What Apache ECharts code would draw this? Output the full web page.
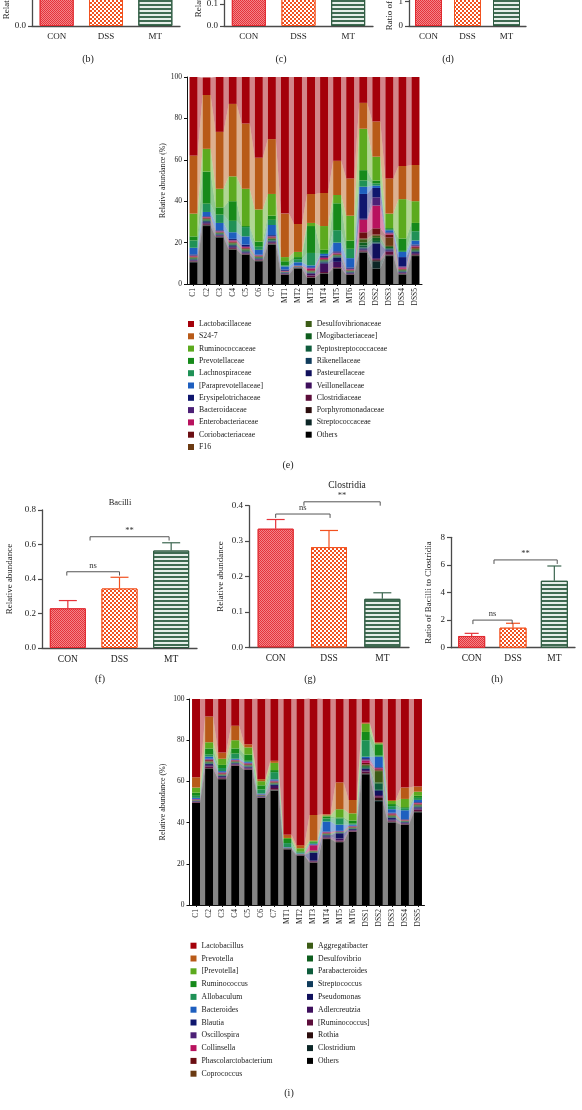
<!DOCTYPE html>
<html><head><meta charset="utf-8">
<script src="https://cdn.jsdelivr.net/npm/echarts@6/dist/echarts.min.js"></script>
<style>html,body{margin:0;padding:0;background:#fff}#c{width:582px;height:1110px}</style>
</head><body><div id="c"></div>
<script>
// ---------------- DATA ----------------
const groups = ['CON', 'DSS', 'MT'];
// panels b, c, d (only their lower part is in view)
const bMeans = [0.55, 0.60, 0.72];
const cMeans = [0.32, 0.28, 0.15];
const dMeans = [1.8, 2.4, 6.0];
// (f) Bacilli
const bacilliMean = [0.23, 0.345, 0.565];
const bacilliErr = [0.045, 0.065, 0.045];
// (g) Clostridia
const clostridiaMean = [0.335, 0.283, 0.137];
const clostridiaErr = [0.026, 0.047, 0.017];
// (h) Ratio of Bacilli to Clostridia
const ratioMean = [0.85, 1.45, 4.85];
const ratioErr = [0.19, 0.32, 1.07];
// significance brackets (x in category-index units, y in data units)
const bacilliBrackets = [
  {x1: -0.02, x2: 1.0, y: 0.442, drop: 0.022, text: 'ns'},
  {x1: 0.43, x2: 1.96, y: 0.645, drop: 0.022, text: '**'}];
const clostridiaBrackets = [
  {x1: 0.0, x2: 1.02, y: 0.3765, drop: 0.011, text: 'ns'},
  {x1: 0.53, x2: 1.96, y: 0.411, drop: 0.011, text: '**'}];
const ratioBrackets = [
  {x1: 0.03, x2: 0.98, y: 2.0, drop: 0.29, text: 'ns'},
  {x1: 0.54, x2: 2.07, y: 6.36, drop: 0.29, text: '**'}];

const samples = ['C1','C2','C3','C4','C5','C6','C7','MT1','MT2','MT3','MT4','MT5','MT6','DSS1','DSS2','DSS3','DSS4','DSS5'];
const yTicks = [0, 20, 40, 60, 80, 100];

// (e) family level, relative abundance (%)
const lactobacillaceae    = [38,8.5,26.5,13,22.5,39,30, 66,71,56.5,56,40.5,49, 12.5,21.5,49,43,42.5];
const s247                = [28,26,27.5,35,31.5,25,26.5, 21,13.5,14,16,16.5,18, 12.5,17,17,16,17.5];
const ruminococcaceae     = [11,11,9,12,18,15.5,10.5, 2,2.5,1.5,11.5,4,12, 20,11.5,7,19,10.5];
const prevotellaceae      = [2,15.5,3.5,9.5,0.5,2.5,2, 2,1,13,1.5,13,4, 5,1.5,0.5,6,4];
const lachnospiraceae     = [3.5,4,4,5.5,4.5,1.5,2.5, 0.5,1.5,6,0.5,6,4.5, 3,1,0.5,0.5,4.5];
const paraprevotellaceae  = [3.2,2,3.5,3.2,4,2.3,4.9, 1.5,1.6,0.9,0.9,4.2,4.5, 3.5,1.1,1,2.5,1.9];
const erysipelotrichaceae = [0.5,0.3,0.3,0.5,0.7,0.2,0.4, 0.6,0.1,0.3,0.5,0.5,0.6, 12,4.5,0.3,4.5,0.5];
const bacteroidaceae      = [0.2,0.2,0.3,0.3,0.5,0.2,0.3, 0.1,0.1,0.3,0.5,0.5,0.3, 0.5,4,0.3,0.5,0.4];
const enterobacteriaceae  = [0.3,0.3,0.2,0.5,0.4,0.2,0.3, 0.2,0.1,0.8,0.5,0.3,0.3, 6,11,0.5,0.6,0.4];
const coriobacteriaceae   = [0.3,0.3,0.2,0.4,0.3,0.2,0.3, 0.1,0.1,0.3,0.3,0.3,0.2, 3,3,1.5,0.2,0.4];
const f16                 = [0.2,0.3,0.2,0.3,0.3,0.2,0.3, 0.1,0.1,0.2,0.2,0.2,0.2, 0.4,0.6,4,0.3,0.4];
const desulfovibrionaceae = [0.3,0.3,0.2,0.3,0.3,0.2,0.3, 0.1,0.1,0.2,0.2,0.2,0.2, 1.5,1,0.5,0.3,0.5];
const mogibacteriaceae    = [0.3,0.4,0.3,0.4,0.4,0.3,0.4, 0.1,0.1,0.3,0.3,0.3,0.2, 1.5,1.5,0.5,0.3,0.4];
const peptostreptococcaceae = [0.2,0.3,0.2,0.3,0.3,0.2,0.3, 0.1,0.1,0.2,0.3,0.3,0.2, 1,0.8,0.4,0.2,0.3];
const rikenellaceae       = [0.3,0.4,0.3,0.4,0.4,0.3,0.4, 0.2,0.1,0.3,0.5,0.5,0.3, 0.5,0.5,0.4,0.3,0.4];
const pasteurellaceae     = [0.2,0.4,0.3,0.4,0.3,0.2,0.3, 0.3,0.1,0.3,0.5,2,0.3, 0.5,7,0.5,0.3,0.5];
const veillonellaceae     = [0.3,0.5,0.3,0.5,0.4,0.3,0.4, 0.2,0.1,0.8,4,2.5,0.3, 0.4,0.5,0.5,0.3,0.5];
const clostridiaceae      = [0.3,0.5,0.3,0.5,0.3,0.3,0.4, 0.2,0.1,0.8,0.5,0.4,0.2, 0.5,0.5,1.5,0.3,0.4];
const porphyromonadaceae  = [0.2,0.3,0.2,0.3,0.2,0.2,0.3, 0.1,0.1,0.2,0.2,0.2,0.1, 0.4,0.5,0.3,0.2,0.3];
const streptococcaceae    = [0.2,0.3,0.2,0.2,0.2,0.2,0.2, 0.1,0.1,0.1,0.1,0.1,0.1, 0.3,3.5,0.3,0.2,0.2];
const othersE             = [10.5,28,22.5,16.5,14,11,19, 4.5,7.5,3,5,7.5,4.5, 15,7.5,13.5,4.5,13.5];

// (i) genus level, relative abundance (%)
const lactobacillus   = [38,8.5,26,13,22,39,30, 66,71,56.5,56,40.5,49, 11.5,21,49,43,42.5];
const prevotella      = [5,12.5,3,7,1.5,1,1, 1.5,1.5,12.5,0.5,13,6.5, 0.5,0.5,0.5,5.5,2.5];
const prevotellaB     = [2.5,3,3,4,3.5,2,3.5, 0.5,1.5,0.5,0.5,4,3.5, 4,0.5,1.5,4,2];
const ruminococcus    = [1.5,3,1.5,2.5,3,2,1, 2,0.5,0.5,1,0.5,1.5, 4,5.5,1,0.5,1];
const allobaculum     = [1,1,1.5,2.5,0.5,2,3.5, 2,0.5,0.5,1.5,3,0.5, 8,0.5,1.5,1,1];
const bacteroides     = [0.5,1,0.5,0.5,0.4,0.4,0.5, 0.2,0.2,0.3,4.8,3,0.5, 0.7,5,1.7,4.3,1];
const blautia         = [0.1,0.2,0.1,0.1,0.2,0.1,0.2, 0.05,0.05,0.2,0.2,0.1,0.2, 0.6,0.3,0.2,0.2,0.3];
const oscillospira    = [0.1,0.2,0.2,0.1,0.2,0.1,0.2, 0.05,0.05,0.2,0.2,0.2,0.1, 0.5,0.3,0.2,0.2,0.2];
const collinsella     = [0.2,0.3,0.3,0.2,0.3,0.1,0.2, 0.05,0.05,2.5,0.3,0.1,0.2, 1.2,0.5,0.4,0.2,0.3];
const phascolarctobacterium = [0.2,0.4,0.3,0.3,0.3,0.1,0.4, 0.05,0.05,0.2,0.2,0.1,0.2, 0.8,0.5,0.3,0.1,0.3];
const coprococcus     = [0.1,0.3,0.2,0.2,0.2,0.1,0.2, 0.05,0.05,0.2,0.2,0.1,0.2, 0.3,0.4,0.3,0.1,0.3];
const aggregatibacter = [0.1,0.3,0.2,0.2,0.2,0.1,0.2, 0.05,0.05,0.2,0.2,0.1,0.2, 0.5,5.5,0.3,0.2,0.3];
const desulfovibrio   = [0.1,0.3,0.2,0.2,0.2,0.1,0.2, 0.05,0.05,0.2,0.2,0.1,0.2, 0.5,0.6,0.3,0.2,0.3];
const parabacteroides = [0.1,0.3,0.2,0.2,0.2,0.1,0.3, 0.05,0.05,0.2,0.2,0.2,0.2, 0.5,3,0.3,0.2,0.3];
const streptococcus   = [0.1,0.3,0.2,0.2,0.2,0.1,0.3, 0.05,0.05,0.2,0.2,0.2,0.2, 0.4,0.5,0.3,0.2,0.3];
const pseudomonas     = [0.2,0.5,0.4,0.3,0.4,0.2,0.5, 0.1,0.1,3.8,0.6,2.5,0.4, 0.5,2,0.8,0.3,0.5];
const adlercreutzia   = [0.2,0.6,0.4,0.3,0.4,0.2,1, 0.1,0.1,0.3,0.5,1,0.3, 0.7,0.6,0.4,0.3,0.6];
const ruminococcusB   = [0.3,0.8,0.5,0.4,0.5,0.2,0.8, 0.1,0.1,0.4,0.4,0.5,0.4, 0.8,0.8,0.5,0.3,0.8];
const rothia          = [0.1,0.3,0.2,0.2,0.2,0.1,0.3, 0.05,0.05,0.2,0.2,0.2,0.1, 0.3,1.2,0.3,0.1,0.3];
const clostridium     = [0.1,0.2,0.1,0.1,0.1,0.1,0.2, 0.05,0.05,0.1,0.1,0.1,0.1, 0.2,0.8,0.2,0.1,0.2];
const othersI         = [49.5,66,61,67.5,65.5,52,55.5, 27,24,20.5,32,30.5,35.5, 63.5,50,40,39,45];

// ---------------- STYLE ----------------
const FONT = 'Liberation Serif';
const TXT = '#222';
const AX = '#4a4a4a';
const palette = ['#000000','#0C2626','#2B0D0D','#5C0D3A','#3E0F5C','#10105C','#103C5C','#0E5C3C','#0E5E1E','#3C5C16',
  '#6B3A12','#6B0E12','#B8125E','#4C2076','#0F166E','#1E5FBF','#1F9156','#168A1A','#5CAA1E','#B85A18','#A4000A'];

// stacks listed bottom to top
const famE = [
  ['Others', othersE], ['Streptococcaceae', streptococcaceae], ['Porphyromonadaceae', porphyromonadaceae],
  ['Clostridiaceae', clostridiaceae], ['Veillonellaceae', veillonellaceae], ['Pasteurellaceae', pasteurellaceae],
  ['Rikenellaceae', rikenellaceae], ['Peptostreptococcaceae', peptostreptococcaceae], ['[Mogibacteriaceae]', mogibacteriaceae],
  ['Desulfovibrionaceae', desulfovibrionaceae], ['F16', f16], ['Coriobacteriaceae', coriobacteriaceae],
  ['Enterobacteriaceae', enterobacteriaceae], ['Bacteroidaceae', bacteroidaceae], ['Erysipelotrichaceae', erysipelotrichaceae],
  ['[Paraprevotellaceae]', paraprevotellaceae], ['Lachnospiraceae', lachnospiraceae], ['Prevotellaceae', prevotellaceae],
  ['Ruminococcaceae', ruminococcaceae], ['S24-7', s247], ['Lactobacillaceae', lactobacillaceae]];
const genI = [
  ['Others ', othersI], ['Clostridium', clostridium], ['Rothia', rothia], ['[Ruminococcus]', ruminococcusB],
  ['Adlercreutzia', adlercreutzia], ['Pseudomonas', pseudomonas], ['Streptococcus', streptococcus],
  ['Parabacteroides', parabacteroides], ['Desulfovibrio', desulfovibrio], ['Aggregatibacter', aggregatibacter],
  ['Coprococcus', coprococcus], ['Phascolarctobacterium', phascolarctobacterium], ['Collinsella', collinsella],
  ['Oscillospira', oscillospira], ['Blautia', blautia], ['Bacteroides', bacteroides], ['Allobaculum', allobaculum],
  ['Ruminococcus', ruminococcus], ['[Prevotella]', prevotellaB], ['Prevotella', prevotella], ['Lactobacillus', lactobacillus]];

const groupStyles = [
  {color: '#E5333A', borderColor: '#E02A30', borderWidth: 1,
   decal: {symbol: 'rect', symbolSize: 1, color: 'rgba(255,200,200,0.55)', dashArrayX: [[1,1],[0,1,1,0]], dashArrayY: [1,0]}},
  {color: '#F2511F', borderColor: '#F2511F', borderWidth: 1,
   decal: {symbol: 'rect', symbolSize: 1, color: '#ffffff', dashArrayX: [[1.8,1.8],[0,1.8,1.8,0]], dashArrayY: [1.8,0]}},
  {color: '#E6EEE9', borderColor: '#2E5A40', borderWidth: 1,
   decal: {symbol: 'rect', symbolSize: 1, color: '#3F6B52', dashArrayX: [1,0], dashArrayY: [1.5,1.8]}}];
const errColors = ['#E5333A', '#F2511F', '#3C6650'];

// ---------------- LAYOUT ----------------
const H = 1110;
function G(left, top, width, height) {
  return {left: left, bottom: H - top - height, width: width, height: height, outerBoundsMode: 'none', containLabel: false};
}
const grids = [
  G(32, -58, 148, 84),        // b 0
  G(224, -62, 149, 88),       // c 1
  G(409, -96, 117, 122),      // d 2
  G(187, 77, 235, 207),       // e 3
  G(42, 510, 155, 138),       // f 4
  G(249, 505.7, 160, 141.6),  // g 5
  G(451, 537.3, 124, 110.4),  // h 6
  G(189.5, 699, 235, 206)     // i 7
];

function groupXAxis(g, fs) {
  return {type: 'category', gridIndex: g, data: groups, boundaryGap: true,
    axisLine: {lineStyle: {color: AX, width: 1.3}},
    axisTick: {alignWithLabel: true, length: 3, lineStyle: {color: AX, width: 1.2}},
    axisLabel: {fontFamily: FONT, fontSize: fs, color: TXT, margin: 6}};
}
function groupYAxis(g, max, interval, name, gap, fs, dec) {
  return {type: 'value', gridIndex: g, min: 0, max: max, interval: interval,
    name: name, nameLocation: 'middle', nameGap: gap, nameRotate: 90,
    nameTextStyle: {fontFamily: FONT, fontSize: fs, color: TXT},
    splitLine: {show: false},
    axisLine: {show: true, lineStyle: {color: AX, width: 1.3}},
    axisTick: {show: true, length: 4, lineStyle: {color: AX, width: 1.2}},
    axisLabel: {fontFamily: FONT, fontSize: 9, color: TXT, margin: 6,
      formatter: v => v.toFixed(dec)}};
}
function sampleXAxis(g) {
  return {type: 'category', gridIndex: g, data: samples, boundaryGap: true,
    axisLine: {lineStyle: {color: '#111', width: 1}},
    axisTick: {show: true, alignWithLabel: true, length: 2, lineStyle: {color: '#111'}},
    axisLabel: {rotate: 90, interval: 0, fontFamily: FONT, fontSize: 7.5, color: TXT, margin: 4}};
}
function pctYAxis(g, gap, fs) {
  return {type: 'value', gridIndex: g, min: yTicks[0], max: yTicks[yTicks.length - 1], interval: yTicks[1] - yTicks[0],
    name: 'Relative abundance (%)', nameLocation: 'middle', nameGap: gap, nameRotate: 90,
    nameTextStyle: {fontFamily: FONT, fontSize: fs, color: TXT},
    splitLine: {show: false},
    axisLine: {show: true, lineStyle: {color: '#111', width: 1}},
    axisTick: {show: true, length: 3, lineStyle: {color: '#111'}},
    axisLabel: {fontFamily: FONT, fontSize: 7.5, color: TXT, margin: 5}};
}

const xAxis = [
  groupXAxis(0, 9), groupXAxis(1, 9), groupXAxis(2, 9),
  sampleXAxis(3),
  groupXAxis(4, 9.5), groupXAxis(5, 9.5), groupXAxis(6, 9.5),
  sampleXAxis(7)];
const yAxis = [
  groupYAxis(0, 0.6, 0.2, 'Relative abundance', 18, 9, 1),
  groupYAxis(1, 0.4, 0.1, 'Relative abundance', 18, 9, 1),
  groupYAxis(2, 5, 1, 'Ratio of Firmicutes to Bacteroidetes', 14, 9, 0),
  pctYAxis(3, 19, 7.8),
  groupYAxis(4, 0.8, 0.2, 'Relative abundance', 28, 9, 1),
  groupYAxis(5, 0.4, 0.1, 'Relative abundance', 24, 9, 1),
  groupYAxis(6, 8, 2, 'Ratio of Bacilli to Clostridia', 18, 9, 0),
  pctYAxis(7, 23, 8)];

const series = [];
function groupBars(xi, yi, means, bw) {
  series.push({type: 'bar', xAxisIndex: xi, yAxisIndex: yi, barWidth: bw, silent: true, z: 2,
    data: means.map((v, i) => ({value: v, itemStyle: groupStyles[i]}))});
}
function errBars(xi, yi, means, errs, capW) {
  series.push({type: 'custom', xAxisIndex: xi, yAxisIndex: yi, silent: true, z: 3,
    encode: {x: 0, y: 1},
    data: means.map((m, i) => [i, m, errs[i]]),
    renderItem: (p, api) => {
      const i = api.value(0), m = api.value(1), e = api.value(2);
      const a = api.coord([i, m]), b = api.coord([i, m + e]);
      const col = errColors[p.dataIndex];
      return {type: 'group', children: [
        {type: 'line', shape: {x1: a[0], y1: a[1], x2: b[0], y2: b[1]}, style: {stroke: col, lineWidth: 1.2}},
        {type: 'line', shape: {x1: b[0] - capW / 2, y1: b[1], x2: b[0] + capW / 2, y2: b[1]}, style: {stroke: col, lineWidth: 1.2}}]};
    }});
}
function brackets(xi, yi, list) {
  series.push({type: 'custom', xAxisIndex: xi, yAxisIndex: yi, silent: true, z: 4,
    encode: {x: 0, y: 1},
    data: list.map(b => [0, b.y, b.x1, b.x2, b.drop]),
    renderItem: (p, api) => {
      const y = api.value(1), x1 = api.value(2), x2 = api.value(3), d = api.value(4);
      const c0 = api.coord([0, y]), c1 = api.coord([1, y]);
      const px = t => c0[0] + (c1[0] - c0[0]) * t;
      const yb = api.coord([0, y - d])[1];
      const X1 = px(x1), X2 = px(x2), Y = c0[1];
      return {type: 'group', children: [
        {type: 'polyline', shape: {points: [[X1, yb], [X1, Y], [X2, Y], [X2, yb]]},
          style: {stroke: '#555', lineWidth: 1, fill: null}},
        {type: 'text', x: (X1 + X2) / 2, y: Y - 1.5,
          style: {text: list[p.dataIndex].text, align: 'center', verticalAlign: 'bottom',
            fontFamily: FONT, fontSize: 8.5, fill: '#333'}}]};
    }});
}
// stacked bars + translucent connecting bands between neighbouring bars
function stacked(xi, yi, list, stackKey, bw) {
  const n = samples.length;
  const cum = [];
  let base = new Array(n).fill(0);
  list.forEach(([name, vals]) => {
    const top = base.map((b, i) => b + vals[i]);
    cum.push([base, top]);
    base = top;
  });
  list.forEach(([name, vals], k) => {
    series.push({name: name, type: 'bar', xAxisIndex: xi, yAxisIndex: yi, stack: stackKey,
      barWidth: bw, silent: true, z: 2, itemStyle: {color: palette[k]}, data: vals});
  });
  const bandData = [];
  list.forEach((f, k) => {
    for (let i = 0; i < n - 1; i++) {
      bandData.push([i, cum[k][0][i], cum[k][1][i], cum[k][0][i + 1], cum[k][1][i + 1], k]);
    }
  });
  series.push({type: 'custom', xAxisIndex: xi, yAxisIndex: yi, silent: true, z: 1,
    encode: {x: 0, y: 1}, data: bandData,
    renderItem: (p, api) => {
      const i = api.value(0), lo0 = api.value(1), hi0 = api.value(2), lo1 = api.value(3), hi1 = api.value(4), k = api.value(5);
      const xa = api.coord([i, 0])[0] + bw / 2, xb = api.coord([i + 1, 0])[0] - bw / 2;
      const y = v => api.coord([i, v])[1];
      return {type: 'polygon',
        shape: {points: [[xa, y(lo0)], [xa, y(hi0)], [xb, y(hi1)], [xb, y(lo1)]]},
        style: {fill: palette[k], opacity: 0.48}};
    }});
}

groupBars(0, 0, bMeans, 34);
groupBars(1, 1, cMeans, 34);
groupBars(2, 2, dMeans, 27);
stacked(3, 3, famE, 'e', 8);
groupBars(4, 4, bacilliMean, 36); errBars(4, 4, bacilliMean, bacilliErr, 18); brackets(4, 4, bacilliBrackets);
groupBars(5, 5, clostridiaMean, 36); errBars(5, 5, clostridiaMean, clostridiaErr, 18); brackets(5, 5, clostridiaBrackets);
groupBars(6, 6, ratioMean, 27); errBars(6, 6, ratioMean, ratioErr, 14); brackets(6, 6, ratioBrackets);
stacked(7, 7, genI, 'i', 8);

function legendCol(names, left, top, gap) {
  return {show: true, orient: 'vertical', left: left, top: top, padding: 0, itemGap: gap,
    itemWidth: 6, itemHeight: 6, icon: 'rect', selectedMode: false,
    textStyle: {fontFamily: FONT, fontSize: 7.8, color: TXT, lineHeight: 9},
    data: names};
}
const eNames = famE.map(f => f[0]).reverse();
const iNames = genI.map(f => f[0]).reverse();
const legend = [
  legendCol(eNames.slice(0, 11), 188, 319.5, 3.3),
  legendCol(eNames.slice(11), 305.7, 319.5, 3.3),
  legendCol(iNames.slice(0, 11), 190.5, 941.2, 3.8),
  legendCol(iNames.slice(11), 307, 941.2, 3.8)];

function label(text, x, y, fs) {
  return {type: 'text', x: x, y: y, silent: true,
    style: {text: text, align: 'center', verticalAlign: 'middle', fontFamily: FONT, fontSize: fs, fill: TXT}};
}
const graphic = [
  label('(b)', 88, 59, 10), label('(c)', 281, 59, 10), label('(d)', 448, 59, 10),
  label('(e)', 288, 465, 10), label('(f)', 100, 679, 10), label('(g)', 310, 679, 10),
  label('(h)', 497, 679, 10), label('(i)', 289, 1093, 10),
  label('Bacilli', 120, 503, 8.5), label('Clostridia', 347, 485, 9.5)];

const chart = echarts.init(document.getElementById('c'), null, {renderer: 'canvas'});
chart.setOption({animation: false, backgroundColor: '#fff', grid: grids, xAxis: xAxis, yAxis: yAxis,
  series: series, legend: legend, graphic: graphic});
</script></body></html>
